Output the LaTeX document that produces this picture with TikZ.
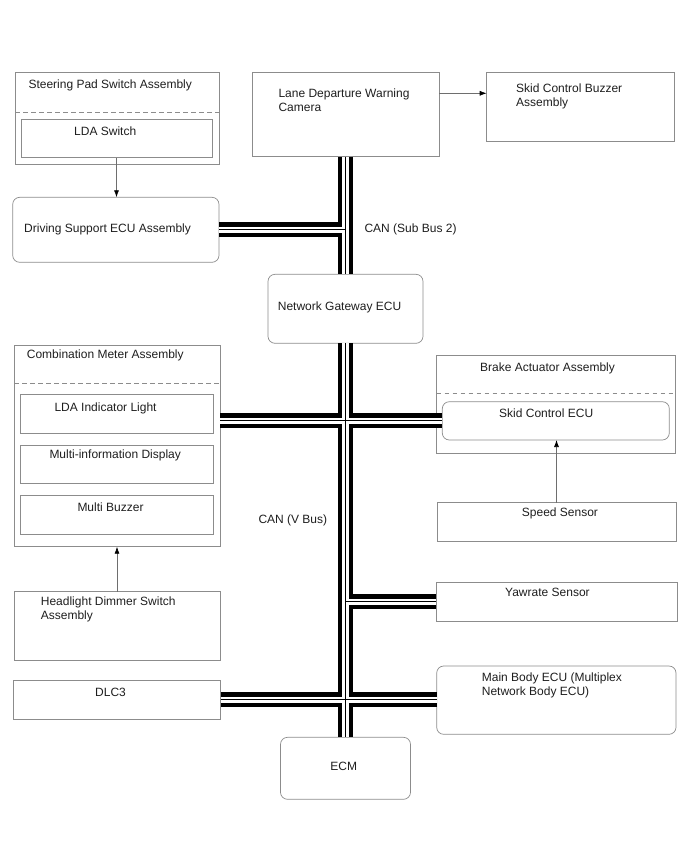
\documentclass[tikz,border=0pt]{standalone}
\usepackage{fontspec}
\setmainfont{Liberation Sans}
\usetikzlibrary{arrows.meta}
\definecolor{edge}{HTML}{8C8C8C}
\definecolor{wire}{HTML}{6E6E6E}
\definecolor{ink}{HTML}{1E1E1E}

\begin{document}
\begin{tikzpicture}[
    x=1pt, y=-1pt,
    box/.style={draw=edge, line width=0.7pt, anchor=north west,
      inner sep=0pt, outer sep=0pt},
    ecu/.style={box, rounded corners=7pt},
    lbl/.style={anchor=base west, inner sep=0pt, align=left, text=ink,
      font=\fontsize{12}{13.8}\selectfont},
    divider/.style={draw=edge, line width=0.7pt,
      dash pattern=on 4.5pt off 3.5pt},
    arrow/.style={draw=wire, line width=0.7pt,
      -{Latex[length=7pt, width=5pt, color=black]}}
  ]
    \useasboundingbox (0,0) rectangle (688,852);

    % left column
    \node[box, minimum width=204pt, minimum height=91.5pt] (steer) at (15,72.7) {};
    \node[box, minimum width=191pt, minimum height=38.5pt] (ldasw) at (21,119.3) {};
    \node[ecu, minimum width=206.3pt, minimum height=65pt] (ds) at (12.7,197.3) {};
    \node[box, minimum width=206pt, minimum height=201.7pt] (comb) at (14,345) {};
    \node[box, minimum width=192.6pt, minimum height=39pt] (ldal) at (20.7,394.3) {};
    \node[box, minimum width=192.6pt, minimum height=38.3pt] (mid) at (20.7,445) {};
    \node[box, minimum width=192.6pt, minimum height=38.3pt] (mbz) at (20.7,495.7) {};
    \node[box, minimum width=206pt, minimum height=69pt] (head) at (14,591.7) {};
    \node[box, minimum width=207.4pt, minimum height=38.3pt] (dlc) at (13.3,680.7) {};

    % middle column
    \node[box, minimum width=187pt, minimum height=84pt] (cam) at (252,72.7) {};
    \node[ecu, minimum width=155pt, minimum height=69pt] (gw) at (268,274.3) {};
    \node[ecu, minimum width=130pt, minimum height=62pt] (ecm) at (280.5,737.3) {};

    % right column
    \node[box, minimum width=187.3pt, minimum height=68.3pt] (buzz) at (486.7,72.7) {};
    \node[box, minimum width=238.3pt, minimum height=98pt] (brake) at (436.7,355) {};
    \node[ecu, minimum width=227pt, minimum height=38.3pt] (skid) at (442.3,401.7) {};
    \node[box, minimum width=239pt, minimum height=39pt] (speed) at (437,502.7) {};
    \node[box, minimum width=241.3pt, minimum height=38.3pt] (yaw) at (436,582.7) {};
    \node[ecu, minimum width=239.3pt, minimum height=68.3pt] (mb) at (436.7,666) {};

    \draw[divider] ([yshift=-39.6pt]steer.north west) -- ([yshift=-39.6pt]steer.north east);
    \draw[divider] ([yshift=-38.3pt]comb.north west) -- ([yshift=-38.3pt]comb.north east);
    \draw[divider] ([yshift=-38.3pt]brake.north west) -- ([yshift=-38.3pt]brake.north east);

    % CAN lines: outer pair, gap, centre wire
    \foreach \bw/\bc in {15pt/black, 6.4pt/white, 0.9pt/black} {
      \draw[line width=\bw, draw=\bc]
        (cam.south) -- (gw.north)
        (ds.east) -- (ds.east -| gw.north)
        (gw.south) -- (ecm.north)
        (comb.east |- skid.west) -- (skid.west)
        (gw.south |- yaw.west) -- (yaw.west)
        (dlc.east) -- (dlc.east -| mb.west);
    }

    \draw[arrow] ([yshift=-20.6pt]cam.north east) -- ([yshift=-20.6pt]buzz.north west);
    \draw[arrow] (ldasw.south) -- (ldasw.south |- ds.north);
    \draw[arrow] (head.north) -- (head.north |- comb.south);
    \draw[arrow] (speed.north) -- (speed.north |- skid.south);

    \node[lbl] (steer-t) at (28.3,88.3) {Steering Pad Switch Assembly};
    \node[lbl] (ldasw-t) at (74,135.3) {LDA Switch};
    \node[lbl] (ds-t) at (24,232.6) {Driving Support ECU Assembly};
    \node[lbl] (comb-t) at (26.7,358.3) {Combination Meter Assembly};
    \node[lbl] (ldal-t) at (54.3,411) {LDA Indicator Light};
    \node[lbl] (mid-t) at (49.3,458.3) {Multi-information Display};
    \node[lbl] (mbz-t) at (77.3,511.6) {Multi Buzzer};
    \node[lbl] (head-t) at (40.7,619.1) {Headlight Dimmer Switch\\Assembly};
    \node[lbl] (dlc-t) at (95,696) {DLC3};
    \node[lbl] (cam-t) at (278.3,111.4) {Lane Departure Warning\\Camera};
    \node[lbl] (gw-t) at (277.7,310.3) {Network Gateway ECU};
    \node[lbl] (sub-t) at (364.3,232.6) {CAN (Sub Bus 2)};
    \node[lbl] (vbus-t) at (258.3,523.6) {CAN (V Bus)};
    \node[lbl, anchor=base] (ecm-t) at (343.7,770.3) {ECM};
    \node[lbl] (buzz-t) at (516,106.4) {Skid Control Buzzer\\Assembly};
    \node[lbl] (brake-t) at (480,371.3) {Brake Actuator Assembly};
    \node[lbl] (skid-t) at (499,417.6) {Skid Control ECU};
    \node[lbl] (speed-t) at (521.7,516.6) {Speed Sensor};
    \node[lbl] (yaw-t) at (505,596.6) {Yawrate Sensor};
    \node[lbl] (mb-t) at (481.7,695.4) {Main Body ECU (Multiplex\\Network Body ECU)};
  \end{tikzpicture}
\end{document}
